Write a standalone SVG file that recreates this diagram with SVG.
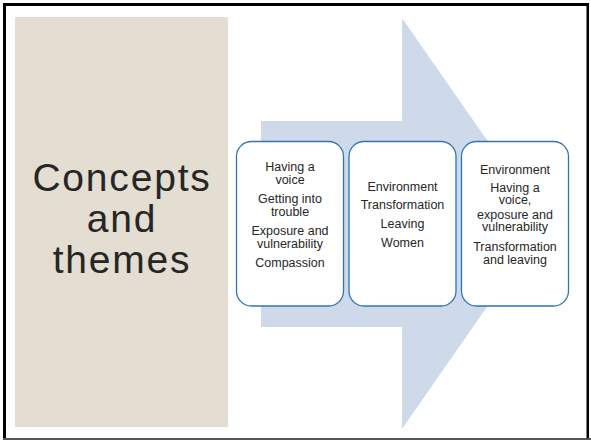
<svg xmlns="http://www.w3.org/2000/svg" width="591" height="440" viewBox="0 0 591 440">
<style>
.box{fill:#ffffff;stroke:#2E75B6;stroke-width:1.3}
.t{font-family:"Liberation Sans",Arial,sans-serif;font-size:12.5px;fill:#262626;text-anchor:middle}
.big{font-family:"Liberation Sans",Arial,sans-serif;font-size:39px;fill:#262626;text-anchor:middle;letter-spacing:1.8px}
</style>
<rect x="0" y="0" width="591" height="440" fill="#ffffff"/>
<g id="frame">
<rect x="3" y="3" width="586" height="3" fill="#000"/>
<rect x="3" y="3" width="3" height="435" fill="#000"/>
<rect x="586.5" y="3" width="2.5" height="435" fill="#000"/>
<rect x="3" y="438" width="588" height="2" fill="#555"/>
</g>
<g id="title">
<rect x="15" y="17" width="213" height="410" fill="#E3DDD2"/>
<text class="big" x="122" y="191"><tspan x="122" y="191">Concepts</tspan><tspan x="122" y="232">and</tspan><tspan x="122" y="273">themes</tspan></text>
</g>
<g id="arrow">
<polygon points="261,121 402,121 402,18 545,223.5 402,429 402,327 261,327" fill="#CED9EA"/>
</g>
<g id="connectors"></g>
<g id="box1">
<rect class="box" x="236.5" y="141.5" width="107" height="164.5" rx="15"/>
<text class="t" x="290" y="170.5">Having a</text>
<text class="t" x="290" y="184">voice</text>
<text class="t" x="290" y="202.5">Getting into</text>
<text class="t" x="290" y="215.5">trouble</text>
<text class="t" x="290" y="234.5">Exposure and</text>
<text class="t" x="290" y="247.5">vulnerability</text>
<text class="t" x="290" y="267">Compassion</text>
</g>
<g id="box2">
<rect class="box" x="349" y="141.5" width="107" height="164.5" rx="15"/>
<text class="t" x="402.5" y="190.5">Environment</text>
<text class="t" x="402.5" y="208.5">Transformation</text>
<text class="t" x="402.5" y="227.5">Leaving</text>
<text class="t" x="402.5" y="246.5">Women</text>
</g>
<g id="box3">
<rect class="box" x="461.5" y="141.5" width="107" height="164.5" rx="15"/>
<text class="t" x="515" y="173.5">Environment</text>
<text class="t" x="515" y="191.5">Having a</text>
<text class="t" x="515" y="204">voice,</text>
<text class="t" x="515" y="218.5">exposure and</text>
<text class="t" x="515" y="231">vulnerability</text>
<text class="t" x="515" y="250.5">Transformation</text>
<text class="t" x="515" y="263.5">and leaving</text>
</g>
</svg>
